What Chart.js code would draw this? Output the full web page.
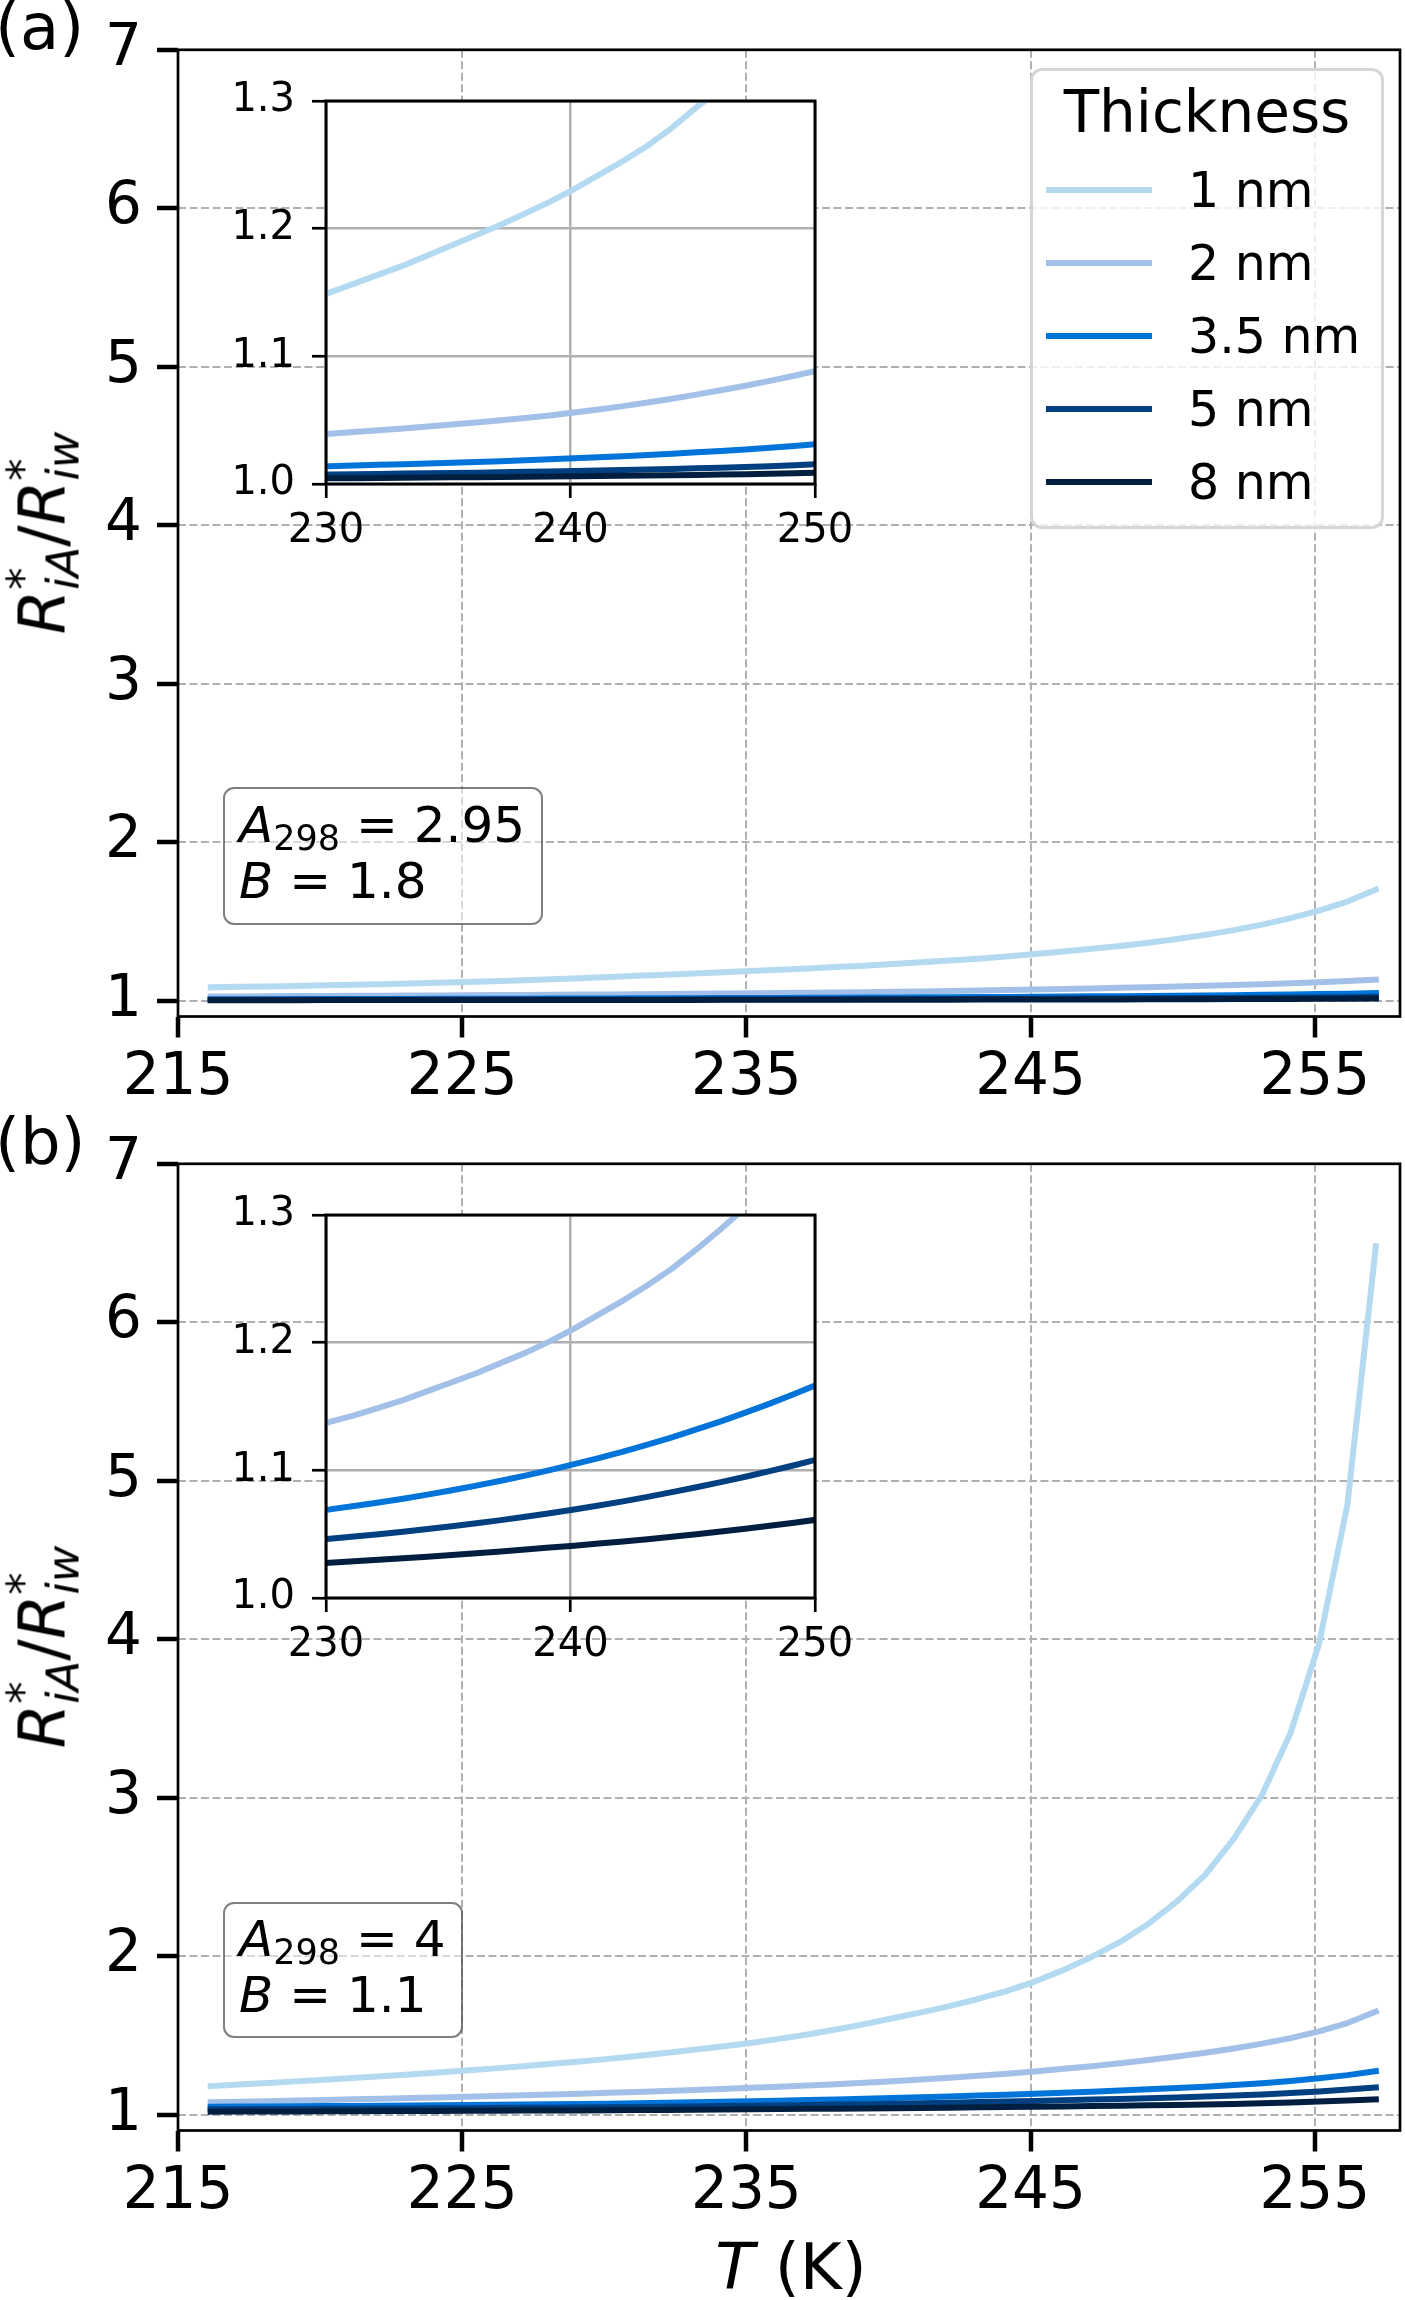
<!DOCTYPE html>
<html>
<head>
<meta charset="utf-8">
<script src="https://cdn.jsdelivr.net/npm/chart.js@4.4.1/dist/chart.umd.min.js"></script>
<style>
html,body{margin:0;padding:0;background:#fff;}
body{width:1405px;height:2300px;position:relative;overflow:hidden;font-family:'DejaVu Sans',sans-serif;color:#000;}
canvas{position:absolute;}
.t{position:absolute;white-space:nowrap;line-height:1;}
.it{font-style:italic;}
.sup,.sub{position:relative;font-size:0.7em;}
.box{position:absolute;box-sizing:border-box;border:2.8px solid rgba(0,0,0,0.5);border-radius:11px;background:rgba(255,255,255,0.5);}
.ylab{font-size:64px;line-height:64px;transform:translate(-50%,-50%) rotate(-90deg);}
#legend{position:absolute;left:1029.6px;top:68px;width:354.8px;height:461px;box-sizing:border-box;border:3px solid rgba(204,204,204,0.8);border-radius:12px;background:rgba(255,255,255,0.8);}
</style>
</head>
<body>
<canvas id="mainA" width="1405" height="1110" style="left:0;top:0"></canvas>
<canvas id="insetA" width="680" height="490" style="left:226px;top:60px"></canvas>
<canvas id="mainB" width="1405" height="1110" style="left:0;top:1114px"></canvas>
<canvas id="insetB" width="680" height="490" style="left:226px;top:1174px"></canvas>

<div class="t" style="left:-5px;top:-5px;font-size:64px">(a)</div>
<div class="t" style="left:-5px;top:1110px;font-size:64px">(b)</div>

<div class="t ylab" style="left:46px;top:533px"><span class="it">R</span><span class="sup" style="top:-26px">*</span><span class="sub it" style="top:14px;margin-left:-0.5em">iA</span>/<span class="it">R</span><span class="sup" style="top:-26px">*</span><span class="sub it" style="top:14px;margin-left:-0.5em">iw</span></div>
<div class="t ylab" style="left:46px;top:1647px"><span class="it">R</span><span class="sup" style="top:-26px">*</span><span class="sub it" style="top:14px;margin-left:-0.5em">iA</span>/<span class="it">R</span><span class="sup" style="top:-26px">*</span><span class="sub it" style="top:14px;margin-left:-0.5em">iw</span></div>

<div class="t" style="left:491px;width:600px;text-align:center;top:2235px;font-size:64px"><span class="it">T</span> (K)</div>

<div class="box" style="left:222.7px;top:787.3px;width:320px;height:137.7px"></div>
<div class="t" style="left:239px;top:799.7px;font-size:50px"><span class="it">A</span><span class="sub" style="top:8px">298</span> = 2.95</div>
<div class="t" style="left:239px;top:855.7px;font-size:50px"><span class="it">B</span> = 1.8</div>

<div class="box" style="left:222.7px;top:1901.7px;width:240px;height:136.3px"></div>
<div class="t" style="left:239px;top:1913.7px;font-size:50px"><span class="it">A</span><span class="sub" style="top:8px">298</span> = 4</div>
<div class="t" style="left:239px;top:1969.7px;font-size:50px"><span class="it">B</span> = 1.1</div>

<div id="legend"></div>

<script>
// ---- data ----
const temperatureK = [216.15,217.15,218.15,219.15,220.15,221.15,222.15,223.15,224.15,225.15,
  226.15,227.15,228.15,229.15,230.15,231.15,232.15,233.15,234.15,235.15,
  236.15,237.15,238.15,239.15,240.15,241.15,242.15,243.15,244.15,245.15,
  246.15,247.15,248.15,249.15,250.15,251.15,252.15,253.15,254.15,255.15,
  256.15,257.15];

const thicknessLabels = ['1 nm','2 nm','3.5 nm','5 nm','8 nm'];
const lineColors = ['#b4daf1','#a3c1e8','#0074d9','#003f80','#001f40'];

// panel (a): A298 = 2.95, B = 1.8
const panelA_1nm = [1.084,1.087,1.090,1.093,1.097,1.100,1.104,1.108,1.113,1.118,
  1.123,1.129,1.135,1.142,1.150,1.157,1.164,1.171,1.179,1.187,
  1.195,1.203,1.212,1.221,1.231,1.242,1.253,1.265,1.279,1.295,
  1.310,1.327,1.345,1.366,1.389,1.415,1.445,1.480,1.521,1.568,
  1.625,1.700];
const panelA_2nm = [1.0260,1.0269,1.0278,1.0287,1.0296,1.0305,1.0314,1.0323,1.0332,1.0341,
  1.0350,1.0360,1.0371,1.0382,1.0394,1.0407,1.0421,1.0435,1.0450,1.0466,
  1.0482,1.0499,1.0517,1.0536,1.0560,1.0584,1.0610,1.0638,1.0668,1.0700,
  1.0734,1.0770,1.0808,1.0848,1.0890,1.0936,1.0986,1.1040,1.1100,1.1166,
  1.1240,1.1330];
const panelA_3p5nm = [1.0090,1.0093,1.0096,1.0099,1.0102,1.0105,1.0109,1.0112,1.0116,1.0119,
  1.0123,1.0127,1.0131,1.0135,1.0140,1.0145,1.0150,1.0155,1.0161,1.0167,
  1.0173,1.0179,1.0186,1.0193,1.0201,1.0209,1.0218,1.0227,1.0237,1.0248,
  1.0259,1.0271,1.0284,1.0298,1.0313,1.0329,1.0347,1.0367,1.0389,1.0413,
  1.0441,1.0475];
const panelA_5nm = [1.0050,1.0051,1.0053,1.0054,1.0056,1.0057,1.0059,1.0060,1.0062,1.0064,
  1.0066,1.0068,1.0070,1.0072,1.0075,1.0077,1.0079,1.0082,1.0084,1.0087,
  1.0089,1.0092,1.0095,1.0098,1.0101,1.0105,1.0109,1.0113,1.0118,1.0123,
  1.0128,1.0134,1.0140,1.0147,1.0155,1.0163,1.0172,1.0182,1.0193,1.0205,
  1.0220,1.0240];
const panelA_8nm = [1.0030,1.0031,1.0032,1.0033,1.0034,1.0035,1.0036,1.0037,1.0038,1.0039,
  1.0040,1.0041,1.0042,1.0043,1.0045,1.0046,1.0047,1.0049,1.0050,1.0052,
  1.0053,1.0055,1.0056,1.0058,1.0060,1.0062,1.0064,1.0066,1.0068,1.0071,
  1.0074,1.0077,1.0080,1.0084,1.0088,1.0093,1.0098,1.0104,1.0110,1.0118,
  1.0127,1.0140];

// panel (b): A298 = 4, B = 1.1
const panelB_1nm = [1.180,1.190,1.200,1.210,1.220,1.231,1.242,1.254,1.266,1.279,
  1.292,1.306,1.321,1.336,1.352,1.370,1.389,1.409,1.430,1.452,
  1.478,1.506,1.537,1.571,1.608,1.645,1.685,1.730,1.780,1.840,
  1.912,1.995,2.090,2.205,2.345,2.515,2.740,3.020,3.410,3.970,
  4.850,6.480];
const panelB_2nm = [1.078,1.081,1.085,1.089,1.093,1.097,1.101,1.105,1.109,1.113,
  1.117,1.122,1.127,1.132,1.138,1.143,1.149,1.155,1.162,1.169,
  1.176,1.184,1.192,1.201,1.211,1.222,1.233,1.245,1.258,1.273,
  1.289,1.306,1.325,1.345,1.367,1.391,1.418,1.448,1.483,1.525,
  1.578,1.650];
const panelB_3p5nm = [1.0497,1.0507,1.0517,1.0528,1.0540,1.0552,1.0565,1.0579,1.0593,1.0608,
  1.0624,1.0640,1.0657,1.0675,1.0694,1.0720,1.0748,1.0778,1.0810,1.0844,
  1.0880,1.0918,1.0959,1.1002,1.1048,1.1096,1.1147,1.1201,1.1259,1.1320,
  1.1384,1.1452,1.1523,1.1598,1.1677,1.1767,1.1870,1.1989,1.2129,1.2295,
  1.2495,1.2745];
const panelB_5nm = [1.0340,1.0346,1.0352,1.0359,1.0366,1.0374,1.0382,1.0390,1.0399,1.0408,
  1.0418,1.0428,1.0439,1.0451,1.0464,1.0481,1.0499,1.0519,1.0540,1.0562,
  1.0585,1.0610,1.0636,1.0664,1.0693,1.0724,1.0757,1.0792,1.0829,1.0868,
  1.0908,1.0950,1.0994,1.1040,1.1088,1.1143,1.1205,1.1277,1.1362,1.1462,
  1.1580,1.1718];
const panelB_8nm = [1.0190,1.0195,1.0200,1.0205,1.0211,1.0217,1.0223,1.0229,1.0235,1.0241,
  1.0248,1.0255,1.0262,1.0269,1.0276,1.0287,1.0299,1.0311,1.0324,1.0337,
  1.0351,1.0365,1.0380,1.0395,1.0410,1.0426,1.0443,1.0461,1.0480,1.0500,
  1.0521,1.0543,1.0566,1.0590,1.0616,1.0644,1.0677,1.0717,1.0765,1.0823,
  1.0889,1.0970];

const mainXTicks = [215,225,235,245,255];
const mainYTicks = [1,2,3,4,5,6,7];
const insetXTicks = [230,240,250];
const insetYTicks = [1.0,1.1,1.2,1.3];

const panelA = [panelA_1nm,panelA_2nm,panelA_3p5nm,panelA_5nm,panelA_8nm];
const panelB = [panelB_1nm,panelB_2nm,panelB_3p5nm,panelB_5nm,panelB_8nm];

// ---- chart helpers ----
Chart.defaults.font.family = "'DejaVu Sans'";
Chart.defaults.color = '#000';

const framePlugin = {
  id: 'frame',
  beforeDraw(chart, args, opts) {
    if (opts.fill) {
      const a = chart.chartArea, ctx = chart.ctx;
      ctx.save();
      ctx.fillStyle = opts.fill;
      ctx.fillRect(a.left, a.top, a.right - a.left, a.bottom - a.top);
      ctx.restore();
    }
  },
  afterDraw(chart, args, opts) {
    const a = chart.chartArea, ctx = chart.ctx;
    ctx.save();
    ctx.lineWidth = opts.width;
    ctx.strokeStyle = '#000';
    ctx.strokeRect(a.left, a.top, a.right - a.left, a.bottom - a.top);
    ctx.restore();
  }
};

function buildChart(id, series, o) {
  const datasets = series.map((vals, i) => ({
    label: thicknessLabels[i],
    data: temperatureK.map((t, k) => ({x: t, y: vals[k]})),
    borderColor: lineColors[i],
    backgroundColor: lineColors[i],
    borderWidth: o.lw,
    pointRadius: 0,
    pointHoverRadius: 0,
    tension: 0,
    fill: false,
    clip: 0,
    order: series.length - 1 - i,
    borderCapStyle: 'square',
    borderJoinStyle: 'round'
  }));
  return new Chart(document.getElementById(id), {
    type: 'line',
    data: {datasets},
    options: {
      responsive: false,
      animation: false,
      devicePixelRatio: 1,
      events: [],
      layout: {padding: o.padding},
      plugins: {
        legend: {display: false},
        tooltip: {enabled: false},
        frame: {width: o.frameW, fill: o.fill}
      },
      scales: {
        x: {
          type: 'linear', min: o.xMin, max: o.xMax,
          afterBuildTicks: s => { s.ticks = o.xTicks.map(v => ({value: v})); },
          afterFit: s => { s.height = o.xAxisH; },
          ticks: {autoSkip: false, maxRotation: 0, minRotation: 0, padding: o.xPad,
                  color: '#000', font: {size: o.fs}, callback: v => o.xFmt(v)},
          grid: {color: o.gridColor, lineWidth: o.gridW, tickLength: o.tickLen,
                 tickWidth: o.tickW, tickColor: '#000', drawTicks: true},
          border: {display: false, dash: o.dash}
        },
        y: {
          type: 'linear', min: o.yMin, max: o.yMax,
          afterBuildTicks: s => { s.ticks = o.yTicks.map(v => ({value: v})); },
          afterFit: s => { s.width = o.yAxisW; },
          ticks: {autoSkip: false, padding: o.yPad, color: '#000',
                  font: {size: o.fs}, callback: v => o.yFmt(v)},
          grid: {color: o.gridColor, lineWidth: o.gridW, tickLength: o.tickLen,
                 tickWidth: o.tickW, tickColor: '#000', drawTicks: true},
          border: {display: false, dash: o.dash}
        }
      }
    },
    plugins: [framePlugin]
  });
}

const mainOpts = {
  lw: 6, frameW: 2.7, fs: 58, tickLen: 21, tickW: 4.5, xPad: 7, yPad: 15,
  gridColor: '#b0b0b0', gridW: 2, dash: [8, 3.5], fill: null,
  padding: {top: 48, right: 5, left: 0, bottom: 0}, yAxisW: 178, xAxisH: 93.5,
  xMin: 215, xMax: 258, yMin: 0.9, yMax: 7,
  xTicks: mainXTicks, yTicks: mainYTicks,
  xFmt: v => String(v), yFmt: v => String(v)
};
const insetOpts = {
  lw: 6, frameW: 3, fs: 40, tickLen: 14, tickW: 2.7, xPad: 10, yPad: 17,
  gridColor: '#b0b0b0', gridW: 2.5, dash: [], fill: '#ffffff',
  padding: {top: 37.5, right: 91, left: 0, bottom: 0}, yAxisW: 100, xAxisH: 66,
  xMin: 230, xMax: 250, yMin: 1.0, yMax: 1.3,
  xTicks: insetXTicks, yTicks: insetYTicks,
  xFmt: v => String(v), yFmt: v => Number(v).toFixed(1)
};

buildChart('mainA', panelA, mainOpts);
buildChart('insetA', panelA, insetOpts);
buildChart('mainB', panelB, mainOpts);
buildChart('insetB', panelB, insetOpts);

// ---- legend (panel a) ----
(function () {
  const leg = document.getElementById('legend');
  const boxLeft = 1029.6, boxTop = 68;
  const title = document.createElement('div');
  title.className = 't';
  title.style.cssText = 'left:-3px;width:354.8px;text-align:center;font-size:58px;top:' + (132 - 49.1 - boxTop - 3) + 'px';
  title.textContent = 'Thickness';
  leg.appendChild(title);
  thicknessLabels.forEach((lab, i) => {
    const yc = 190 + 73 * i;
    const line = document.createElement('div');
    line.style.cssText = 'position:absolute;left:' + (1046 - boxLeft - 3) + 'px;top:' + (yc - 3 - boxTop - 3) +
      'px;width:106px;height:6px;background:' + lineColors[i];
    leg.appendChild(line);
    const txt = document.createElement('div');
    txt.className = 't';
    txt.style.cssText = 'font-size:49px;left:' + (1188 - boxLeft - 3) + 'px;top:' + (yc + 17.9 - 41.5 - boxTop - 3) + 'px';
    txt.textContent = lab;
    leg.appendChild(txt);
  });
})();
</script>
</body>
</html>
